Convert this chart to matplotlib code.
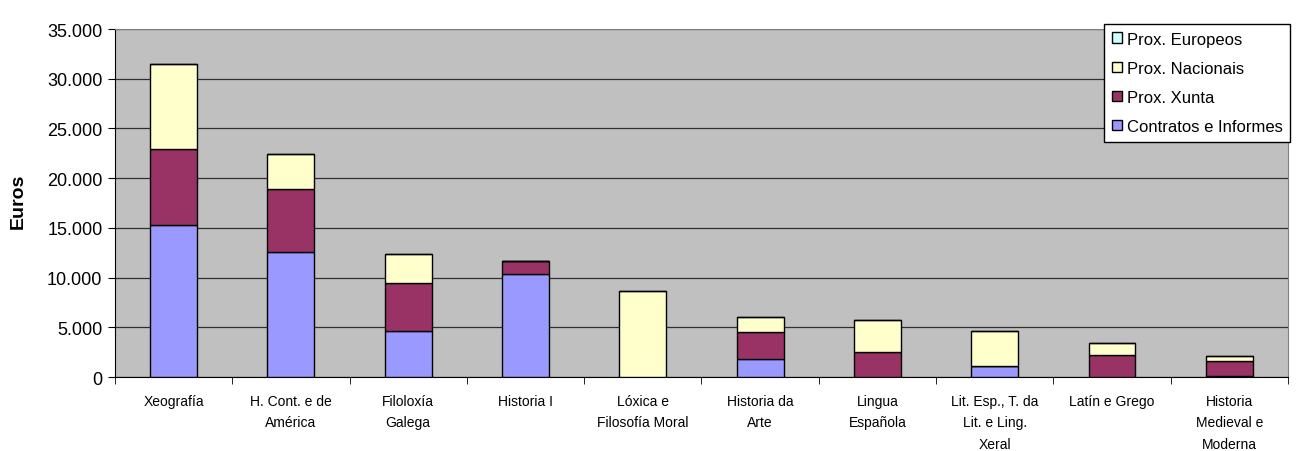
"""
    Stacked bar chart of funding per department.
"""
import matplotlib
matplotlib.use("Agg")
import matplotlib.pyplot as plt
import matplotlib.patches as mpatches
from matplotlib.ticker import FuncFormatter, FixedLocator
import numpy as np

CATEGORIES = ["Xeografía", "H. Cont. e de\nAmérica", "Filoloxía\nGalega",
              "Historia I", "Lóxica e\nFilosofía Moral", "Historia da\nArte",
              "Lingua\nEspañola", "Lit. Esp., T. da\nLit. e Ling.\nXeral",
              "Latín e Grego", "Historia\nMedieval e\nModerna"]

CONTRATOS = [15290, 12575, 4630, 10360, 0, 1770, 0, 1105, 0, 120]
XUNTA = [7680, 6295, 4790, 1270, 0, 2755, 2475, 0, 2175, 1490]
NACIONAIS = [8520, 3595, 2910, 0, 8610, 1510, 3290, 3555, 1275, 460]
EUROPEOS = [0, 0, 0, 0, 0, 0, 0, 0, 0, 0]

COLOR_CONTRATOS = '#9999FF'
COLOR_XUNTA = '#993366'
COLOR_NACIONAIS = '#FFFFCC'
COLOR_EUROPEOS = '#CCFFFF'


def thousands(val, pos):
    return "{:,.0f}".format(val).replace(",", ".")


def main():
    plt.rcParams['font.family'] = ['Liberation Sans', 'DejaVu Sans']
    fig = plt.figure(figsize=(12.99, 4.52), dpi=100)
    ax = fig.add_axes([0.0885, 0.1637, 0.9030, 0.7699])
    ax.set_facecolor('#C0C0C0')

    x = np.arange(len(CATEGORIES))
    width = 0.4
    bottom = np.zeros(len(CATEGORIES))
    series = [(CONTRATOS, COLOR_CONTRATOS), (XUNTA, COLOR_XUNTA),
              (NACIONAIS, COLOR_NACIONAIS), (EUROPEOS, COLOR_EUROPEOS)]
    for vals, col in series:
        vals = np.array(vals, dtype=float)
        ax.bar(x, vals, width, bottom=bottom, color=col,
               edgecolor='black', linewidth=1.0, zorder=3)
        bottom += vals

    ax.set_xlim(-0.5, len(CATEGORIES) - 0.5)
    ax.set_ylim(0, 35000)
    ax.set_yticks(range(0, 35001, 5000))
    ax.yaxis.set_major_formatter(FuncFormatter(thousands))
    ax.yaxis.grid(True, color='#303030', linewidth=0.9, zorder=1)

    ax.set_xticks(x)
    ax.set_xticklabels(CATEGORIES, fontsize=10, linespacing=1.68)
    ax.xaxis.set_minor_locator(FixedLocator(np.arange(-0.5, len(CATEGORIES), 1)))
    ax.tick_params(axis='x', which='major', length=0, pad=12)
    ax.tick_params(axis='x', which='minor', length=5, direction='out')
    ax.tick_params(axis='y', length=5, direction='out', labelsize=13, pad=4)

    for side in ['left', 'bottom']:
        ax.spines[side].set_color('black')
    for side in ['top', 'right']:
        ax.spines[side].set_color('#808080')

    fig.text(18 / 1299, 1 - 201 / 452, 'Euros', fontsize=14, fontweight='bold',
             rotation=90, ha='center', va='center')

    handles = [mpatches.Patch(facecolor=COLOR_EUROPEOS, edgecolor='black', label='Prox. Europeos'),
               mpatches.Patch(facecolor=COLOR_NACIONAIS, edgecolor='black', label='Prox. Nacionais'),
               mpatches.Patch(facecolor=COLOR_XUNTA, edgecolor='black', label='Prox. Xunta'),
               mpatches.Patch(facecolor=COLOR_CONTRATOS, edgecolor='black', label='Contratos e Informes')]
    leg = fig.legend(handles=handles, loc='upper right',
                     bbox_to_anchor=(1290 / 1299, 1 - 25 / 452),
                     fontsize=12, frameon=True, fancybox=False,
                     handlelength=0.6, handleheight=0.6, handletextpad=0.3,
                     borderpad=0.45, labelspacing=0.85, borderaxespad=0)
    leg.get_frame().set_edgecolor('black')
    leg.get_frame().set_linewidth(1.0)
    leg.get_frame().set_alpha(1)

    fig.savefig('out.png', dpi=100)


if __name__ == "__main__":
    main()
